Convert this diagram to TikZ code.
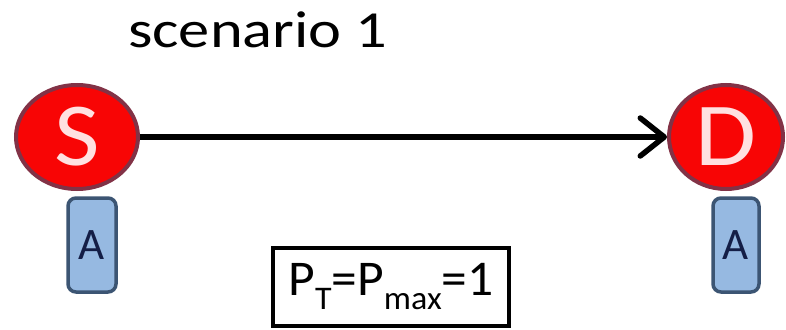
\documentclass[tikz,border=0pt]{standalone}
\usepackage{fontspec}
\setmainfont{Carlito}
\usetikzlibrary{arrows.meta,shapes.geometric}
\definecolor{nodered}{RGB}{248,5,5}
\definecolor{nodeborder}{RGB}{130,50,70}
\definecolor{lettercol}{RGB}{255,225,225}
\definecolor{boxfill}{RGB}{150,185,225}
\definecolor{boxborder}{RGB}{60,85,115}
\definecolor{boxtext}{RGB}{20,30,70}
\newcommand{\widetext}[2][1.18]{\scalebox{#1}[1]{#2}}
\tikzset{
  endpoint/.style={ellipse, fill=nodered, draw=nodeborder, line width=4pt, inner sep=0pt,
    text=lettercol, font=\fontsize{90}{90}\selectfont},
  antbox/.style={rectangle, rounded corners=8pt, fill=boxfill, draw=boxborder, line width=3.5pt,
    inner sep=0pt, text=boxtext, font=\fontsize{45}{45}\selectfont},
  powerbox/.style={rectangle, draw=black, line width=4pt, inner sep=0pt, font=\fontsize{50}{50}\selectfont},
  link/.style={line width=5.5pt, -{Straight Barb[length=24pt,width=38pt,line width=5.5pt,round]}}
}
\begin{document}
\begin{tikzpicture}[x=1pt,y=-1pt]
\useasboundingbox (0,0) rectangle (786,329);
\node[anchor=base west, font=\fontsize{52}{52}\selectfont, inner sep=0pt] (title) at (128,48) {\widetext[1.2]{scenario 1}};
\node[endpoint, minimum width=122pt, minimum height=104pt] (S) at (77,137) {\widetext[1.1]{S}};
\node[endpoint, minimum width=114pt, minimum height=104pt] (D) at (726,137) {\widetext[1.1]{D}};
\node[antbox, minimum width=48pt, minimum height=94pt] (AS) at (92,245) {A};
\node[antbox, minimum width=46pt, minimum height=94pt] (AD) at (736,245) {A};
\node[powerbox, minimum width=236pt, minimum height=78pt] (PT) at (391,287)
  {\widetext[1.03]{P\raisebox{-0.28em}{\fontsize{33}{33}\selectfont T}=P\raisebox{-0.28em}{\fontsize{33}{33}\selectfont max}=1}};
\draw[link] (S.east) -- (D.west);
\end{tikzpicture}
\end{document}
